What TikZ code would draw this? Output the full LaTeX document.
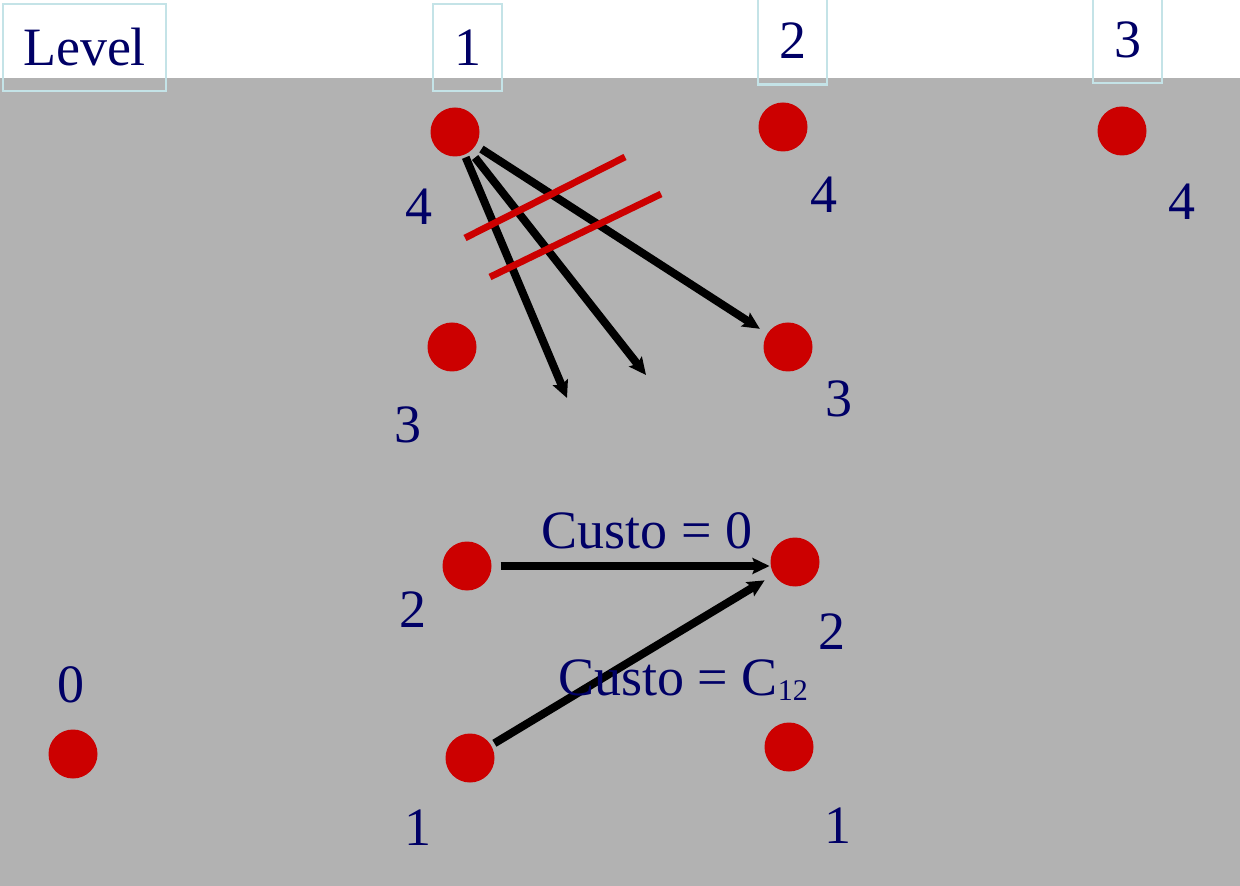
\documentclass[tikz,border=0pt]{standalone}
\usepackage{fontspec}
\setmainfont{Liberation Serif}
\usetikzlibrary{arrows.meta}
\definecolor{slide}{HTML}{B2B2B2}
\definecolor{dot}{HTML}{CC0000}
\definecolor{ink}{HTML}{000066}
\definecolor{frame}{HTML}{C4E3E7}
\newcommand{\slidefont}{\fontsize{27}{30}\selectfont}
\newcommand{\subfont}{\fontsize{15}{16}\selectfont}
\tikzset{
 every node/.append style={font=\slidefont,text=ink},
 state/.style={circle,fill=dot,minimum size=24.5pt,inner sep=0pt,outer sep=0pt},
 tag/.style={inner sep=0pt},
 head/.style={draw=frame,line width=1.3pt,inner sep=0pt,minimum height=43.5pt},
 move/.style={-{Stealth[length=8.5pt,width=8pt,inset=1.5pt]},draw=black,line width=4pt},
 cut/.style={draw=dot,line width=3.4pt},
}

\begin{document}
\begin{tikzpicture}[x=0.5pt,y=-0.5pt]

\useasboundingbox (0,0) rectangle (1240,886);
\fill[white] (0,0) rectangle (1240,78);
\fill[slide] (0,78) rectangle (1240,886);
% level headings
\node[head,minimum width=81.5pt] (hl) at (84.5,47.5) {Level};
\node[head,minimum width=34.5pt] (h1) at (467.5,47.5) {1};
\node[head,minimum width=34.5pt] (h2) at (792.5,41) {2};
\node[head,minimum width=34.5pt] (h3) at (1127.5,39.5) {3};
% states
\node[state] (n0) at (73,754) {};
\node[state] (n41) at (455,132) {};
\node[state] (n42) at (783,127) {};
\node[state] (n43) at (1122,131) {};
\node[state] (n31) at (452,347) {};
\node[state] (n32) at (788,347) {};
\node[state] (n21) at (467,566) {};
\node[state] (n22) at (795,562) {};
\node[state] (n11) at (470,758) {};
\node[state] (n12) at (789,747) {};
% state labels
\node[tag] (t0) at (71,685) {0};
\node[tag] (t41) at (418.5,206.5) {4};
\node[tag] (t42) at (824,195) {4};
\node[tag] (t43) at (1182,202) {4};
\node[tag] (t31) at (408,425) {3};
\node[tag] (t32) at (839,399) {3};
\node[tag] (t21) at (413,610) {2};
\node[tag] (t22) at (832,632) {2};
\node[tag] (t11) at (418,828) {1};
\node[tag] (t12) at (838,826) {1};
% moves out of level 1, state 4
\coordinate (e1) at (646,375);
\coordinate (e2) at (567,398);
\draw[move,shorten <=3.5pt,shorten >=4.5pt] (n41) -- (n32);
\draw[move,shorten <=4pt] (n41) -- (e1);
\draw[move,shorten <=1.5pt] (n41) -- (e2);
\coordinate (a1) at (465,238);
\coordinate (b1) at (625,157);
\coordinate (a2) at (490,277);
\coordinate (b2) at (661,194);
\draw[cut] (a1) -- (b1);
\draw[cut] (a2) -- (b2);
% moves into level 2, state 2
\draw[move,shorten <=4.5pt,shorten >=0.5pt] (n21) -- (n21 -| n22.west);
\draw[move,shorten <=2pt,shorten >=5.5pt] (n11) -- (n22);
\node[tag] (k0) at (647,531) {Custo = 0};
\node[tag,anchor=base west] (k12) at (558,695) {Custo = C\raisebox{-2.5pt}{\subfont 12}};

\end{tikzpicture}
\end{document}
